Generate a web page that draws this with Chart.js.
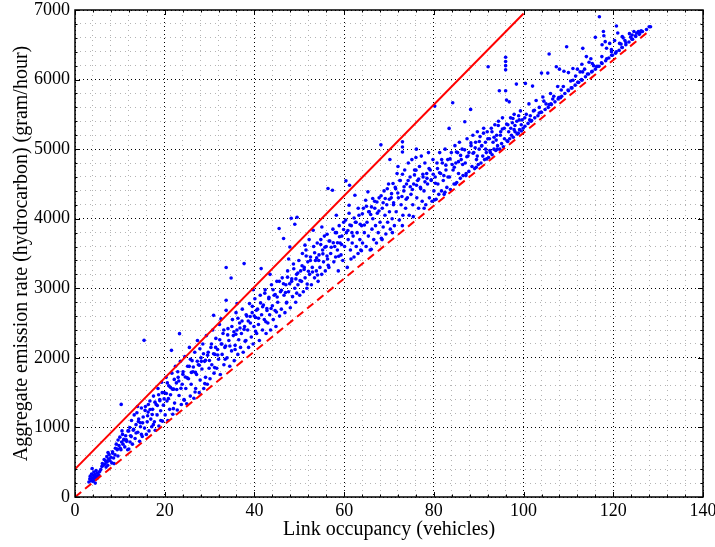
<!DOCTYPE html>
<html>
<head>
<meta charset="utf-8">
<script src="https://cdn.jsdelivr.net/npm/chart.js@4.4.0/dist/chart.umd.min.js"></script>
<style>
  body { margin: 0; background: #fff; }
  canvas { display: block; }
</style>
</head>
<body>
<canvas id="myChart" width="715" height="547"></canvas>
<script>
// scatter, grouped by link occupancy
const pointsUnder15 = [
  [3.1,215],[3.3,260],[3.4,300],[3.6,235],[3.7,330],[3.9,270],[4.0,225],[4.1,310],[4.2,360],[4.3,250],
  [4.4,290],[4.5,330],[4.6,260],[4.7,380],[4.8,300],[4.9,265],[5.0,345],[5.2,290],[5.3,320],[5.5,365],
  [6.0,440],[6.1,480],[6.3,455],[6.5,540],[6.6,470],[6.8,520],[7.0,500],[7.1,580],[7.2,510],[7.3,455],
  [7.5,545],[7.6,610],[7.8,520],[8.0,570],[8.2,490],[8.4,630],[8.6,560],
  [9.0,700],[9.2,760],[9.4,680],[9.6,820],[9.8,740],[10.0,860],[10.1,700],[10.3,1331],[10.4,790],
  [10.6,900],[10.7,760],[10.9,830],[11.1,720],[11.3,880],[11.5,800],[11.8,950],
  [12.0,690],[12.2,1000],[12.4,880],[12.6,1100],[12.8,760],[13.0,960],[13.2,1180],[13.4,840],
  [13.6,1040],[13.8,1210],[14.0,930],[14.2,1120],[14.4,800],[14.6,1010],[14.8,1280],
  [3.83,410],[4.52,200],[5.74,395],[6.93,430],[7.36,640],[8.71,480],[9.57,590],[10.48,950],[11.74,680],[13.93,1300]
];
const points15to30 = [
  [15.0,870],[15.2,1150],[15.4,2252],[15.5,990],[15.7,1300],[15.9,900],[16.1,1080],[16.3,1220],[16.5,950],[16.7,1380],
  [16.9,1120],[17.1,1010],[17.3,1260],[17.5,1450],[17.7,1080],[17.9,960],[18.1,1330],[18.3,1180],[18.5,1560],[18.7,1020],
  [18.9,1400],[19.1,1240],[19.3,1650],[19.5,1090],[19.7,1320],[19.9,1500],[20.1,1180],[20.3,1720],[20.5,1380],[20.7,1100],
  [20.9,1600],[21.1,1260],[21.3,1470],[21.5,2108],[21.6,1780],[21.8,1190],[22.0,1550],[22.2,1350],[22.4,1880],[22.6,1640],
  [22.8,1250],[23.0,1720],[23.2,1460],[23.3,2348],[23.5,1950],[23.7,1330],[23.9,1620],[24.1,1800],[24.3,1400],[24.5,2020],
  [24.7,1560],[24.9,1340],[25.1,1880],[25.3,1700],[25.5,2150],[25.7,1450],[25.9,1620],[26.1,1960],[26.3,1800],[26.5,1420],
  [26.7,2080],[26.9,1560],[27.1,1760],[27.3,2250],[27.5,1900],[27.7,1500],[27.9,1680],[28.1,2000],[28.3,1840],[28.5,2200],
  [28.7,1560],[28.9,1950],[29.1,1720],[29.3,2320],[29.5,1620],[29.7,2080],[29.9,1850]
];
const points30to46 = [
  [30.1,1700],[30.3,2150],[30.5,1900],[30.7,2400],[30.9,2611],[31.0,1780],[31.2,2050],[31.4,2280],[31.6,1850],[31.8,2120],
  [32.0,1980],[32.2,2480],[32.4,1760],[32.6,2200],[32.8,2050],[33.0,2350],[33.2,1900],[33.4,2150],[33.7,2683],[33.7,2827],
  [33.7,3298],[33.9,2000],[34.1,2420],[34.3,2250],[34.5,1880],[34.8,3148],[34.9,2100],[35.1,2550],[35.3,2320],[35.5,1960],
  [35.7,2180],[35.9,2650],[36.1,2400],[36.3,2050],[36.5,2260],[36.7,2500],[36.9,2150],[37.1,2350],[37.3,2700],[37.5,2080],
  [37.7,3355],[37.8,2450],
  [38.1,2250],[38.3,2600],[38.5,2400],[38.7,2150],[38.9,2780],[39.1,2500],[39.3,2300],[39.5,2650],[39.7,2200],[39.9,2450],
  [40.1,2850],[40.3,2580],[40.5,2350],[40.7,2700],[40.9,2480],[41.1,2250],[41.3,2900],[41.5,3283],[41.6,2620],[41.8,2400],
  [42.0,2760],[42.2,2550],[42.4,2980],[42.6,2350],[42.8,2680],[43.0,2500],[43.2,2850],[43.4,2620],[43.6,2400],[43.8,3050],
  [44.0,2750],[44.2,2550],[44.4,2900],[44.6,2680],[44.8,2450],[45.0,3100],[45.2,2800],[45.5,3859],[45.6,2600],[45.8,2950]
];
const points46to62 = [
  [46.0,2700],[46.2,3150],[46.5,3715],[46.6,2900],[46.8,2650],[47.0,3050],[47.2,2800],[47.4,3250],[47.6,2950],[47.9,3594],
  [48.0,2720],[48.2,4007],[48.3,3100],[48.5,2880],[48.7,3350],[49.0,3920],[49.0,3000],[49.2,2800],[49.4,3200],[49.5,4020],
  [49.7,3050],[49.9,3400],[50.1,2900],[50.3,3250],[50.5,3100],[50.7,3500],[50.9,2950],[51.1,3300],[51.3,3150],[51.5,3550],
  [51.7,3000],[51.9,3380],[52.2,3700],[52.3,3200],[52.5,3450],[52.7,3050],[52.9,3300],[53.1,3835],[53.2,3600],[53.4,3150],
  [53.6,3400],[53.8,3250],[54.0,3650],[54.2,3100],[54.4,3480],[54.6,3300],[54.8,3700],[55.0,3200],[55.2,3550],[55.4,3380],
  [55.6,3750],[55.8,3250],[56.0,3600],[56.2,3777],[56.3,3420],[56.4,4435],[56.6,3300],[56.8,3680],[57.0,3500],[57.4,4410],
  [57.5,3850],[57.7,3380],[57.9,3600],[58.1,3450],[58.3,3800],[58.5,3550],[58.7,3250],[58.9,3900],[59.1,3650],[59.3,3480],
  [59.5,3750],[59.7,3400],[59.9,3950],[60.1,3600],[60.4,4544],[60.5,3800],[60.7,3300],[60.9,3700],[61.1,4194],[61.1,4079],
  [61.2,4482],[61.4,3550],[61.6,3900],[61.8,3650]
];
const points62to80 = [
  [62.0,3750],[62.2,3450],[62.4,4338],[62.5,3950],[62.7,3600],[62.9,3800],[63.1,3500],[63.3,4050],[63.5,3700],[63.7,3550],
  [63.9,3900],[64.1,3650],[64.3,4150],[64.5,3800],[64.8,4266],[64.9,3600],[65.1,3950],[65.3,4386],[65.4,3750],[65.6,4100],
  [65.8,3550],[66.1,4170],[66.2,3850],[66.4,4000],[66.6,3700],[66.8,4250],[67.0,3900],[67.2,3650],[67.4,4080],[67.6,3800],
  [67.8,4300],[68.0,3950],[68.2,5062],[68.3,3720],[68.5,4150],[68.7,3880],[68.9,4400],[69.1,4050],[69.3,3780],[69.5,4200],
  [69.7,3950],[69.9,4500],
  [70.1,4100],[70.2,4852],[70.3,3850],[70.5,4300],[70.7,4000],[70.9,4506],[71.0,4200],[71.2,3900],[71.4,4450],[71.6,4100],
  [71.8,4650],[72.0,4750],[72.1,4300],[72.3,3980],[72.5,4550],[72.7,4200],[73.0,4640],[73.0,4960],[73.0,5030],[73.0,5105],
  [73.1,4050],[73.3,4400],[73.5,4700],[73.7,4150],[73.9,4500],[74.1,4300],[74.3,4800],[74.5,4050],[74.7,4600],[74.9,4350],
  [75.1,4850],[75.3,4200],[75.5,4500],[75.7,4700],[76.0,4698],[76.0,4880],[76.1,5000],[76.2,4300],[76.4,4550],[76.6,4150],
  [76.8,4750],[77.0,4450],[77.2,4900],[77.4,4250],[77.6,4600],[77.8,4400],[78.0,4800],[78.2,4200],[78.4,4650],[78.6,4500],
  [78.8,4950],[79.0,4300],[79.2,4700],[79.4,4550],[79.6,4250],[79.8,4850]
];
const points80to100 = [
  [80.0,4400],[80.2,5619],[80.3,4600],[80.5,4280],[80.7,4800],[80.9,4500],[81.1,4350],[81.3,4950],[81.5,4650],[81.7,4400],
  [81.9,4800],[82.1,4550],[82.3,4350],[82.5,5000],[82.7,4700],[82.9,4450],[83.1,4850],[83.4,5298],[83.5,4600],[83.7,4420],
  [83.9,4950],[84.2,5666],[84.3,4700],[84.5,4500],[84.7,5050],[84.9,4800],[85.1,4520],[85.3,4950],[85.5,4650],[85.7,5100],
  [85.9,4580],[86.1,4850],[86.3,5000],[86.5,4620],[86.9,5393],[87.0,4800],[87.2,4650],[87.4,5150],[87.6,4900],[87.8,4680],
  [88.2,5571],[88.3,5050],[88.5,4750],[88.7,5200],[88.9,4950],[89.1,4720],[89.3,5100],[89.5,4850],[89.7,5250],[89.9,4780],
  [90.1,5000],[90.3,5180],[90.5,4800],[90.7,5050],[90.9,4900],[91.1,5300],[91.3,4850],[91.5,5100],[91.7,4950],[91.9,5250],
  [92.1,6184],[92.2,4880],[92.4,5150],[92.6,4950],[92.8,5300],[93.0,4920],[93.2,5100],[93.4,5000],[93.6,5350],[93.8,4980],
  [94.0,5200],[94.2,5050],[94.4,5400],[94.6,5839],[94.7,5000],[94.9,5250],[95.1,5080],[95.3,5450],[95.5,5033],[95.7,5300],
  [96.0,5840],[96.0,6140],[96.0,6200],[96.0,6260],[96.0,6320],[96.2,5705],[96.3,5120],[96.5,5350],[96.8,5680],[96.9,5150],
  [97.1,5450],[97.3,5200],[97.5,5380],[97.7,5170],[97.9,5500],[98.1,5250],[98.4,5935],[98.5,5400],[98.7,5220],[98.9,5480],
  [99.1,5280],[99.3,5550],[99.5,5260],[99.7,5420],[99.9,5300]
];
const pointsAbove100 = [
  [100.3,5330],[101.0,5370],[101.8,5410],[102.5,5450],[103.2,5480],[104.0,5530],[104.8,5570],[105.5,5600],[106.2,5640],[107.0,5680],
  [107.7,5720],[108.5,5760],[109.2,5800],[110.0,5840],[110.8,5880],[111.5,5920],[112.3,5960],[113.0,5990],[113.8,6040],[114.5,6080],
  [115.3,6120],[116.0,6150],[116.8,6190],[117.5,6230],[118.3,6270],[119.0,6310],[119.8,6350],[120.5,6380],[121.3,6420],[122.0,6460],
  [122.8,6500],[123.5,6540],[124.3,6580],[125.0,6620],[125.8,6650],[126.5,6690],[127.4,6720],[128.0,6760],
  [100.4,5945],[100.6,5500],[101.2,5650],[101.5,5480],[102.0,5906],[102.2,5550],[102.8,5700],[103.5,5600],[104.0,6093],[104.3,5750],
  [105.0,5650],[105.4,6093],[105.7,6367],[106.0,5800],[106.5,5720],[107.3,6185],[107.6,5900],[108.0,6150],[108.4,5850],[109.0,6120],
  [109.6,6472],[110.0,6100],[110.5,5980],[111.0,6160],[111.6,6050],[112.0,6150],[112.6,6110],[113.0,6220],[113.2,6449],[113.6,6150],
  [114.0,6330],[114.6,6250],[115.0,6300],[115.6,6200],[116.0,6607],[116.3,6185],[116.9,6904],[117.5,6500],[117.8,6690],[117.9,6630],
  [118.2,6545],[118.5,6450],[119.2,6520],[119.6,6400],[120.3,6560],[120.7,6770],[121.0,6670],[121.4,6520],[122.0,6620],[122.2,6600],
  [122.6,6560],[123.6,6660],[124.2,6640],[124.6,6690],[125.2,6670],[125.6,6690],[126.2,6700],[128.3,6760]
];
// denser core of the cloud
const coreUnder30 = [
  [8.37,650],[8.93,605],[9.47,690],[10.23,680],[10.86,820],[11.42,823],[11.97,950],[12.53,868],[13.07,973],[13.61,920],
  [14.13,1085],[14.57,1067],[15.08,1066],[15.63,1245],[16.18,1168],[16.74,1257],[17.22,1185],[17.83,1363],[18.36,1315],[18.92,1384],
  [19.44,1500],[19.87,1410],[20.36,1487],[20.82,1414],[21.27,1576],[21.74,1550],[22.13,1690],[22.68,1546],[23.14,1668],[23.62,1562],
  [24.05,1763],[24.58,1725],[25.03,1712],[25.47,1878],[25.94,1791],[26.38,1868],[26.85,1791],[27.26,1951],[27.72,1893],[28.17,1950],
  [28.64,2058],[29.08,1965],[29.56,2039],[29.97,1963],
  [12.27,790],[14.81,900],[17.46,1040],[19.12,1100],[21.93,1270],[24.36,1390],[26.77,1510],[28.93,1630],
  [16.35,1330],[18.64,1470],[20.58,1640],[22.91,1800],[25.72,1980],[27.84,2130]
];
const core30to60 = [
  [30.42,2200],[30.88,2060],[31.35,2150],[31.83,2040],[32.27,2260],[32.74,2200],[33.16,2400],[33.58,2170],[34.04,2330],[34.52,2170],
  [34.97,2450],[35.43,2375],[35.86,2340],[36.32,2570],[36.78,2430],[37.24,2530],[37.69,2410],[38.16,2620],[38.62,2530],[39.05,2595],
  [39.53,2740],[39.96,2600],[40.44,2685],[40.92,2570],[41.37,2790],[41.84,2735],[42.31,2930],[42.77,2710],[43.22,2870],[43.71,2710],
  [44.16,2980],[44.63,2910],[45.07,2875],[45.54,3100],[46.02,2970],[46.47,3065],[46.93,2940],[47.38,3160],[47.86,3065],[48.32,3135],
  [48.77,3280],[49.24,3135],[49.68,3220],[50.17,3110],[50.62,3325],[51.08,3270],[51.54,3465],[52.03,3245],[52.48,3400],[52.94,3235],
  [53.42,3510],[53.87,3437],[54.33,3400],[54.78,3630],[55.26,3495],[55.71,3590],[56.18,3465],[56.64,3680],[57.12,3590],[57.58,3655],
  [58.04,3800],[58.52,3655],[58.97,3740],[59.43,3630],[59.88,3845],
  [31.12,1860],[33.47,1980],[35.68,2120],[37.93,2240],[40.26,2380],[42.55,2520],[44.91,2660],[47.14,2790],[49.43,2930],[51.76,3060],
  [54.07,3190],[56.45,3330],[58.79,3460],
  [32.53,2560],[36.14,2780],[39.72,2980],[43.48,3200],[47.63,3420],[51.27,3620],[55.03,3880],[58.26,4050]
];
const core60to100 = [
  [60.34,3980],[60.83,3830],[61.28,3910],[61.74,3800],[62.21,4010],[62.67,3950],[63.14,4150],[63.58,3920],[64.06,4070],[64.52,3910],
  [64.98,4180],[65.46,4100],[65.92,4060],[66.37,4290],[66.83,4150],[67.31,4240],[67.76,4110],[68.24,4330],[68.69,4230],[69.16,4290],
  [69.62,4430],[70.08,4280],[70.57,4360],[71.03,4230],[71.48,4430],[71.96,4370],[72.43,4550],[72.88,4320],[73.36,4460],[73.82,4280],
  [74.27,4550],[74.74,4460],[75.22,4420],[75.68,4630],[76.13,4480],[76.62,4570],[77.07,4430],[77.54,4640],[78.02,4530],[78.47,4580],
  [78.93,4720],[79.41,4560],[79.86,4640],[80.34,4510],[80.81,4720],[81.26,4660],[81.74,4850],[82.22,4620],[82.68,4770],[83.15,4600],
  [83.62,4860],[84.08,4780],[84.56,4740],[85.03,4960],[85.49,4820],[85.96,4910],[86.42,4780],[86.87,4990],[87.35,4890],[87.82,4950],
  [88.26,5090],[88.74,4940],[89.21,5020],[89.68,4900],[90.14,5110],[90.62,5045],[91.07,5230],[91.54,5000],[92.03,5150],[92.48,4980],
  [92.96,5250],[93.42,5170],[93.89,5130],[94.36,5340],[94.83,5200],[95.27,5290],[95.74,5150],[96.22,5360],[96.68,5250],[97.15,5300],
  [97.62,5440],[97.90,5280],[98.08,5340],[98.56,5220],[99.03,5420],[99.48,5350],
  [61.53,3420],[63.86,3540],[66.04,3560],[68.47,3700],[70.76,3800],[72.98,3900],[75.41,4030],[77.83,4150],[80.16,4270],[82.47,4380],
  [84.82,4500],[87.14,4620],[89.45,4740],[91.78,4860],[94.12,5000],[96.47,5110],[98.82,5230]
];
const coreAbove100 = [
  [100.27,5450],[101.36,5420],[102.41,5560],[103.48,5520],[104.52,5690],[105.67,5640],[106.74,5760],[107.83,5740],[108.86,5900],[109.92,5850],
  [111.03,5990],[112.08,5960],[113.17,6110],[114.24,6080],[115.32,6230],[116.37,6190],[117.45,6330],[118.52,6300],[119.58,6430],[120.66,6400],
  [121.73,6510],[122.81,6530],[123.87,6610],[124.96,6630],[126.03,6680],
  [101.64,5400],[103.82,5530],[106.09,5650],[108.23,5740],[110.61,5880],[112.92,6000],[115.17,6110],[117.36,6240],[119.63,6350],[121.92,6460],
  [124.18,6580]
];

// bounding lines
const upperLineX = [0, 100];
const upperLineY = [400, 6950];
const lowerLineX = [0, 128];
const lowerLineY = [0, 6700];

const xTickLabels = [0, 20, 40, 60, 80, 100, 120, 140];
const yTickLabels = [0, 1000, 2000, 3000, 4000, 5000, 6000, 7000];

const scatterPoints = [
  pointsUnder15, points15to30, points30to46, points46to62, points62to80, points80to100, pointsAbove100,
  coreUnder30, core30to60, core60to100, coreAbove100,
]
  .flat()
  .map(([x, y]) => ({ x: x, y: y }));
const upperLine = upperLineX.map((x, i) => ({ x: x, y: upperLineY[i] }));
const lowerLine = lowerLineX.map((x, i) => ({ x: x, y: lowerLineY[i] }));

const serif = "'Liberation Serif', 'Times New Roman', serif";

// frame + inward ticks on all four sides, like matlab
const boxTicks = {
  id: "boxTicks",
  afterDatasetsDraw(chart) {
    const { ctx, chartArea: a, scales } = chart;
    ctx.save();
    ctx.strokeStyle = "#000";
    ctx.lineWidth = 1;
    ctx.setLineDash([]);
    ctx.beginPath();
    scales.x.ticks.forEach((t) => {
      const px = Math.round(scales.x.getPixelForValue(t.value)) + 0.5;
      const len = xTickLabels.includes(t.value) ? 5 : 2.5;
      ctx.moveTo(px, a.bottom);
      ctx.lineTo(px, a.bottom - len);
      ctx.moveTo(px, a.top);
      ctx.lineTo(px, a.top + len);
    });
    scales.y.ticks.forEach((t) => {
      const py = Math.round(scales.y.getPixelForValue(t.value)) + 0.5;
      const len = yTickLabels.includes(t.value) ? 5 : 2.5;
      ctx.moveTo(a.left, py);
      ctx.lineTo(a.left + len, py);
      ctx.moveTo(a.right, py);
      ctx.lineTo(a.right - len, py);
    });
    ctx.stroke();
    ctx.lineWidth = 1.5;
    ctx.strokeRect(a.left, a.top, a.right - a.left, a.bottom - a.top);
    ctx.restore();
  },
};

const ctx = document.getElementById("myChart");

new Chart(ctx, {
  type: "scatter",
  data: {
    datasets: [
      {
        type: "line",
        data: upperLine,
        borderColor: "#ff0000",
        borderWidth: 2,
        pointRadius: 0,
        fill: false,
      },
      {
        type: "line",
        data: lowerLine,
        borderColor: "#ff0000",
        borderWidth: 2,
        borderDash: [8, 5],
        pointRadius: 0,
        fill: false,
      },
      {
        data: scatterPoints,
        pointRadius: 1.8,
        pointBorderWidth: 0,
        pointBackgroundColor: "#0000ff",
        backgroundColor: "#0000ff",
      },
    ],
  },
  options: {
    responsive: false,
    animation: false,
    layout: { padding: { top: 10, right: 12, left: 0, bottom: 0 } },
    plugins: { legend: { display: false }, tooltip: { enabled: false } },
    scales: {
      x: {
        type: "linear",
        min: 0,
        max: 140,
        afterFit: (s) => {
          s.height = 50;
          s.paddingLeft = 0;
          s.paddingRight = 0;
        },
        ticks: {
          stepSize: 4,
          autoSkip: false,
          maxRotation: 0,
          minRotation: 0,
          padding: 3,
          color: "#000",
          font: { family: serif, size: 18 },
          callback: (v) => (xTickLabels.includes(v) ? String(v) : ""),
        },
        grid: {
          drawTicks: false,
          lineWidth: 1,
          color: (c) => (c.tick && xTickLabels.includes(c.tick.value) ? "#000" : "#b4b4b4"),
        },
        border: {
          display: false,
          dash: (c) => (c.tick && xTickLabels.includes(c.tick.value) ? [1, 3] : [1, 4]),
        },
        title: {
          display: true,
          text: "Link occupancy (vehicles)",
          color: "#000",
          font: { family: serif, size: 20 },
          padding: { top: 0, bottom: 5 },
        },
      },
      y: {
        type: "linear",
        min: 0,
        max: 7000,
        afterFit: (s) => {
          s.width = 75;
          s.paddingTop = 0;
          s.paddingBottom = 0;
        },
        ticks: {
          stepSize: 200,
          autoSkip: false,
          padding: 5,
          color: "#000",
          font: { family: serif, size: 18 },
          callback: (v) => (yTickLabels.includes(v) ? String(v) : ""),
        },
        grid: {
          drawTicks: false,
          lineWidth: 1,
          color: (c) => (c.tick && yTickLabels.includes(c.tick.value) ? "#000" : "#b4b4b4"),
        },
        border: {
          display: false,
          dash: (c) => (c.tick && yTickLabels.includes(c.tick.value) ? [1, 3] : [1, 4]),
        },
        title: {
          display: true,
          text: "Aggregate emission rate (hydrocarbon) (gram/hour)",
          color: "#000",
          font: { family: serif, size: 20 },
          padding: { top: 10, bottom: 0 },
        },
      },
    },
  },
  plugins: [boxTicks],
});
</script>
</body>
</html>
